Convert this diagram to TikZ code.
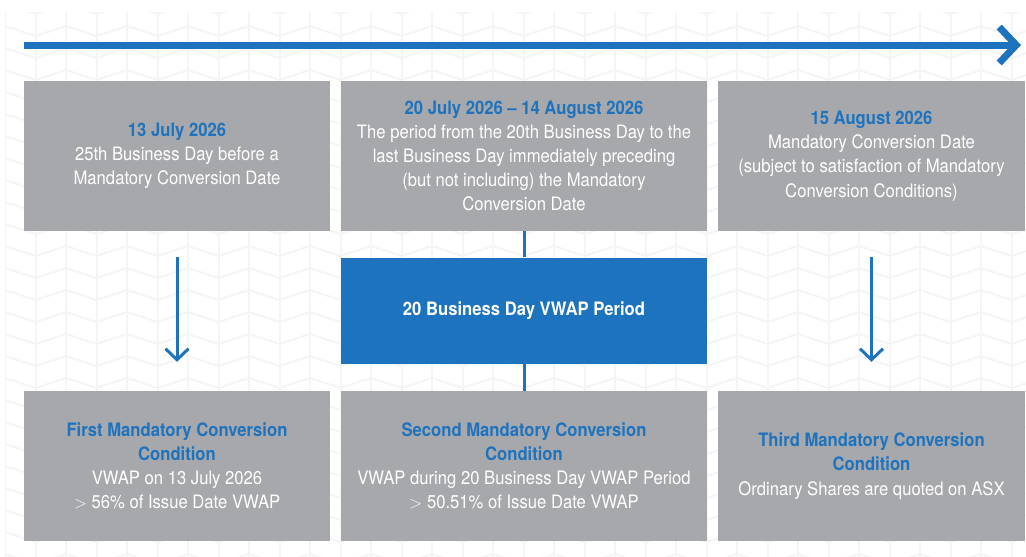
\documentclass[tikz,border=0pt]{standalone}
\usepackage{fontspec}
\setmainfont[FakeStretch=0.9]{TeX Gyre Heros}
\usetikzlibrary{arrows.meta}
\definecolor{boxgray}{HTML}{A7A8AC}
\definecolor{brandblue}{HTML}{1E73BE}
\definecolor{patgray}{HTML}{F5F5F5}
\tikzset{
  greybox/.style={fill=boxgray, text=white, align=center, inner sep=0pt,
    minimum height=150pt, font=\fontsize{18.5pt}{24.2pt}\selectfont},
  narrowbox/.style={greybox, minimum width=306pt},
  widebox/.style={greybox, minimum width=366pt},
  bluebox/.style={fill=brandblue, text=white, inner sep=0pt, minimum width=366pt,
    minimum height=106pt, font=\fontsize{18.5pt}{24pt}\selectfont\bfseries},
  timeline/.style={draw=brandblue, line width=7pt,
    -{Straight Barb[length=17pt, width=36pt, line width=7pt]}},
  downarrow/.style={draw=brandblue, line width=3pt,
    -{Straight Barb[length=11pt, width=23pt, line width=3pt]}},
  link/.style={draw=brandblue, line width=3pt},
  pattern line/.style={draw=patgray, line width=2pt}
}
\newcommand{\hltext}[1]{{\color{brandblue}\bfseries #1}}
\newcommand{\gtsign}{\raisebox{0pt}{$>$}}
\begin{document}
\begin{tikzpicture}[x=1pt, y=-1pt]
  \useasboundingbox (0,0) rectangle (1026,557);
  \fill[white] (0,0) rectangle (1026,557);

  % faint herringbone background
  \begin{scope}
    \clip (5,12) rectangle (1026,557);
    \foreach \k in {0,...,34}{
      \draw[pattern line] ({5+30.5*\k},12) -- ({5+30.5*\k},557);
    }
    \foreach \r in {0,...,25}{
      \draw[pattern line] (5,{4+22*\r})
        \foreach \k in {1,...,34}{ -- ({5+30.5*\k},{4+22*\r+10*mod(\k,2)}) };
    }
  \end{scope}

  % timeline
  \coordinate (tlstart) at (24,45);
  \coordinate (tlend) at (1021,45);
  \draw[timeline] (tlstart) -- (tlend);

  % dates
  \node[narrowbox] (d1) at (177,156)
    {\hltext{13 July 2026}\\25th Business Day before a\\Mandatory Conversion Date};
  \node[widebox] (d2) at (524,156)
    {\hltext{20 July 2026 – 14 August 2026}\\The period from the 20th Business Day to the\\last Business Day immediately preceding\\(but not including) the Mandatory\\Conversion Date};
  \node[narrowbox, minimum width=307pt] (d3) at (871.5,156)
    {\hltext{15 August 2026}\\Mandatory Conversion Date\\(subject to satisfaction of Mandatory\\Conversion Conditions)};

  % VWAP period
  \node[bluebox] (vwap) at (524,310.5) {20 Business Day VWAP Period};

  % conditions
  \node[narrowbox] (c1) at (177,466)
    {\hltext{First Mandatory Conversion}\\\hltext{Condition}\\VWAP on 13 July 2026\\\gtsign{} 56\% of Issue Date VWAP};
  \node[widebox] (c2) at (524,466)
    {\hltext{Second Mandatory Conversion}\\\hltext{Condition}\\VWAP during 20 Business Day VWAP Period\\\gtsign{} 50.51\% of Issue Date VWAP};
  \node[narrowbox, minimum width=307pt] (c3) at (871.5,466)
    {\hltext{Third Mandatory Conversion}\\\hltext{Condition}\\Ordinary Shares are quoted on ASX};

  % connectors
  \draw[downarrow, shorten <=26pt, shorten >=29pt] (d1) -- (c1);
  \draw[downarrow, shorten <=26pt, shorten >=29pt] (d3.south -| c3) -- (c3.north);
  \draw[link] (d2) -- (vwap);
  \draw[link] (vwap) -- (c2);
\end{tikzpicture}
\end{document}
